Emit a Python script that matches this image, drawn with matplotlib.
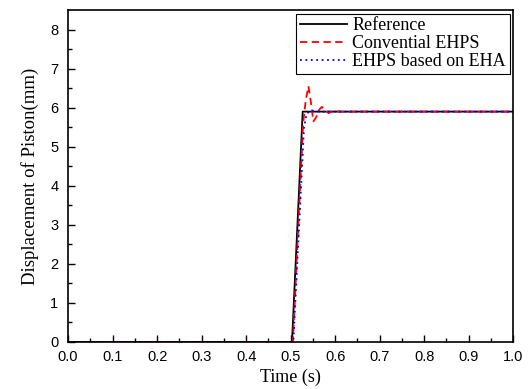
import matplotlib.pyplot as plt

# time (s) and piston displacement (mm) for each curve
ref_t = [0.0, 0.503, 0.527, 1.0]
ref_y = [0.0, 0.0, 5.9, 5.9]

conv_t = [0.0, 0.505, 0.528, 0.534, 0.540, 0.546, 0.551, 0.557, 0.564, 0.570, 0.577, 0.585, 0.595, 0.61, 1.0]
conv_y = [0.0, 0.0, 5.6, 6.2, 6.55, 6.1, 5.65, 5.75, 5.95, 6.02, 5.95, 5.86, 5.92, 5.9, 5.9]

eha_t = [0.0, 0.506, 0.530, 0.536, 0.545, 0.56, 0.58, 1.0]
eha_y = [0.0, 0.0, 5.5, 5.85, 5.92, 5.9, 5.9, 5.9]

fig = plt.figure(figsize=(5.28, 3.89), dpi=100)
ax = fig.add_axes([0.129, 0.121, 0.843, 0.853])

ax.plot(ref_t, ref_y, color="black", lw=1.3, label="Reference")
ax.plot(conv_t, conv_y, color="red", lw=1.3, ls=(0, (4, 2.5)), label="Convential EHPS")
ax.plot(eha_t, eha_y, color="blue", lw=1.3, ls=(0, (1, 2)), label="EHPS based on EHA")

ax.set_xlim(0, 1.0)
ax.set_ylim(0, 8.5)
ax.set_xticks([i / 10 for i in range(11)])
ax.set_xticks([i / 20 for i in range(21)], minor=True)
ax.set_yticks(range(9))
ax.set_yticks([i / 2 for i in range(17)], minor=True)
ax.tick_params(direction="in", which="major", length=5, width=1, labelsize=10.5)
ax.tick_params(axis="x", which="major", pad=6)
ax.tick_params(axis="y", which="major", pad=7)
ax.tick_params(direction="in", which="minor", length=3, width=1)
for lab in ax.get_xticklabels() + ax.get_yticklabels():
    lab.set_family("Liberation Sans")
for s in ax.spines.values():
    s.set_linewidth(1.2)

ax.set_xlabel("Time (s)", family="Liberation Serif", fontsize=13, labelpad=3)
ax.set_ylabel("Displacement of Piston(mm)", family="Liberation Serif", fontsize=13.5, labelpad=8)

leg = ax.legend(loc="upper right", prop={"family": "Liberation Serif", "size": 13},
                fancybox=False, edgecolor="black", framealpha=1, borderaxespad=0.2,
                handlelength=2.6, labelspacing=0.05, borderpad=0.2, handletextpad=0.3)
leg.get_frame().set_linewidth(0.8)

fig.savefig("out.png", dpi=100)
